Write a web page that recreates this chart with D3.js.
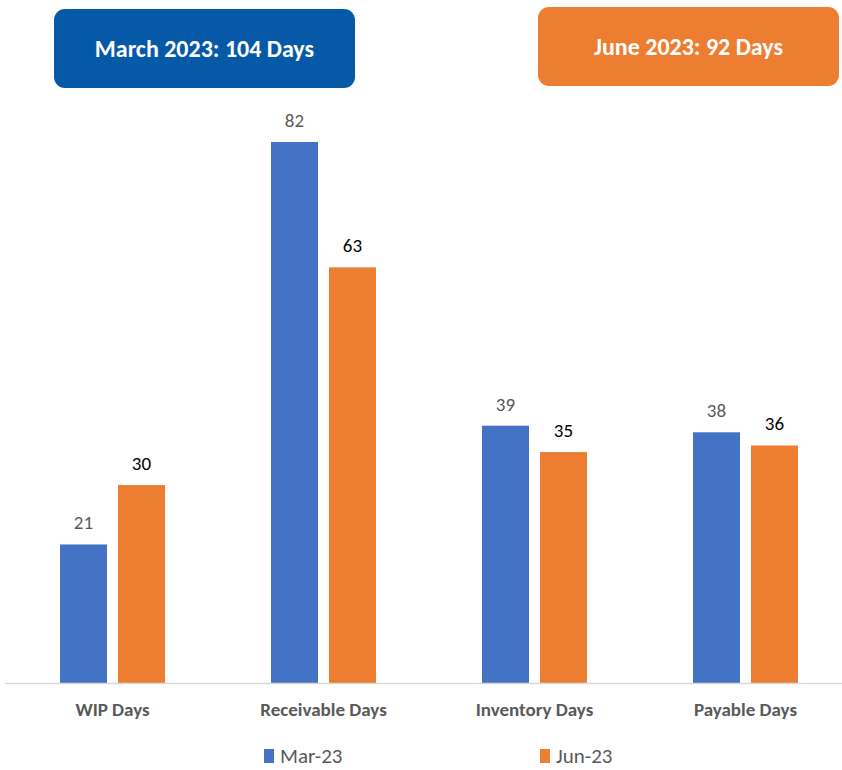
<!DOCTYPE html>
<html>
<head>
<meta charset="utf-8">
<script src="https://cdn.jsdelivr.net/npm/d3@7"></script>
<style>
  body { margin: 0; background: #fff; }
  svg { display: block; font-family: Calibri, Carlito, Lato, sans-serif; }
</style>
</head>
<body>
<div id="chart"></div>
<script>
var categories = ["WIP Days", "Receivable Days", "Inventory Days", "Payable Days"];
var series = ["Mar-23", "Jun-23"];
var mar23 = [21, 82, 39, 38];
var jun23 = [30, 63, 35, 36];
var banners = ["March 2023: 104 Days", "June 2023: 92 Days"];

const w = 842;
const h = 770;
const colors = ["#4472C4", "#ED7D31"];
const labelColors = ["#595959", "#000000"];
const bannerColors = ["#0559A7", "#ED7D31"];

var svg = d3.select("#chart")
  .append("svg")
  .attr("width", w)
  .attr("height", h);

// scales
var x0 = d3.scaleBand().domain(categories).range([7, 851]);
var groupW = 105;
var x1 = d3.scaleBand().domain(series).range([0, groupW]).paddingInner(11 / 58);
var y = d3.scaleLinear().domain([0, 82]).range([683, 142]);

var rows = categories.map(function (c, i) {
  return { cat: c, values: [mar23[i], jun23[i]] };
});

// bars
var groups = svg.append("g").selectAll("g")
  .data(rows)
  .enter()
  .append("g")
  .attr("transform", function (d) {
    return "translate(" + (x0(d.cat) + (x0.bandwidth() - groupW) / 2) + ",0)";
  });

groups.selectAll("rect")
  .data(function (d) { return d.values.map(function (v, k) { return { s: series[k], v: v, k: k }; }); })
  .enter()
  .append("rect")
  .attr("x", function (d) { return x1(d.s); })
  .attr("y", function (d) { return y(d.v); })
  .attr("width", x1.bandwidth())
  .attr("height", function (d) { return y(0) - y(d.v); })
  .attr("fill", function (d) { return colors[d.k]; });

groups.selectAll("text")
  .data(function (d) { return d.values.map(function (v, k) { return { s: series[k], v: v, k: k }; }); })
  .enter()
  .append("text")
  .attr("x", function (d) { return x1(d.s) + x1.bandwidth() / 2; })
  .attr("y", function (d) { return y(d.v) - 15; })
  .attr("text-anchor", "middle")
  .attr("font-size", 19)
  .attr("fill", function (d) { return labelColors[d.k]; })
  .text(function (d) { return d.v; });

// x axis
var xAxis = svg.append("g")
  .attr("transform", "translate(0," + y(0) + ")")
  .call(d3.axisBottom(x0).tickSize(0).tickPadding(20));
xAxis.select(".domain").attr("stroke", "#D9D9D9").attr("stroke-width", 1.5).attr("d", "M5,0.5H842");
xAxis.selectAll("text")
  .attr("font-size", 19)
  .attr("font-weight", "bold")
  .attr("fill", "#595959")
  .attr("font-family", "Calibri, Carlito, Lato, sans-serif");

// banners
var bannerPos = [{ x: 54, y: 9 }, { x: 538, y: 7 }];
var bn = svg.append("g").selectAll("g")
  .data(banners)
  .enter()
  .append("g")
  .attr("transform", function (d, i) { return "translate(" + bannerPos[i].x + "," + bannerPos[i].y + ")"; });
bn.append("rect")
  .attr("width", 301)
  .attr("height", 79)
  .attr("rx", 11)
  .attr("fill", function (d, i) { return bannerColors[i]; });
bn.append("text")
  .attr("x", 150.5)
  .attr("y", 40)
  .attr("dy", "0.35em")
  .attr("text-anchor", "middle")
  .attr("font-size", 24)
  .attr("font-weight", "bold")
  .attr("fill", "#fff")
  .text(function (d) { return d; });

// legend
var legendX = [264, 540];
var lg = svg.append("g").selectAll("g")
  .data(series)
  .enter()
  .append("g")
  .attr("transform", function (d, i) { return "translate(" + legendX[i] + ",749)"; });
lg.append("rect").attr("width", 10).attr("height", 14).attr("fill", function (d, i) { return colors[i]; });
lg.append("text")
  .attr("x", 16)
  .attr("y", 14)
  .attr("font-size", 21)
  .attr("fill", "#595959")
  .text(function (d) { return d; });
</script>
</body>
</html>
